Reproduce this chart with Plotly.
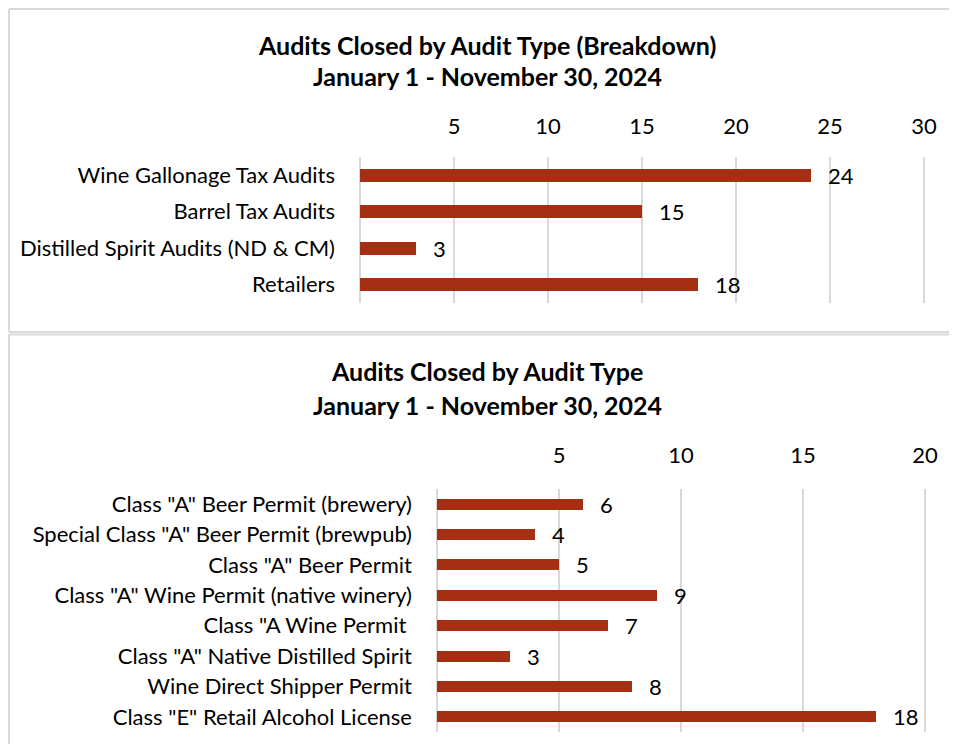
import plotly.graph_objects as go

# ---- data ----
top_categories = ["Wine Gallonage Tax Audits", "Barrel Tax Audits",
                  "Distilled Spirit Audits (ND & CM)", "Retailers"]
top_values = [24, 15, 3, 18]
top_ticks = [5, 10, 15, 20, 25, 30]

bottom_categories = ['Class "A" Beer Permit (brewery)',
                     'Special Class "A" Beer Permit (brewpub)',
                     'Class "A" Beer Permit',
                     'Class "A" Wine Permit (native winery)',
                     'Class "A Wine Permit ',
                     'Class "A" Native Distilled Spirit',
                     'Wine Direct Shipper Permit',
                     'Class "E" Retail Alcohol License']
bottom_values = [6, 4, 5, 9, 7, 3, 8, 18]
bottom_ticks = [5, 10, 15, 20]

top_title = ["Audits Closed by Audit Type (Breakdown)", "January 1 - November 30, 2024"]
bottom_title = ["Audits Closed by Audit Type", "January 1 - November 30, 2024"]

# ---- styling ----
OFF = 8          # default body margin of the page
W, H = 941, 736  # figure size so that page fits the 957x754 window
BAR = "#A52F12"
GRID = "#D9D9D9"
FONT = "Lato"
FS = 22
PAD = "  \u2009"


def px(x):
    return (x - OFF) / W


def py(y):
    return 1 - (y - OFF) / H


fig = go.Figure()

fig.add_trace(go.Bar(
    x=top_values, y=top_categories, orientation="h",
    marker=dict(color=BAR, line=dict(width=0)), width=0.36,
    text=[PAD + str(v) for v in top_values], textposition="outside",
    constraintext="none",
    textfont=dict(family=FONT, size=FS, color="#000000"),
    cliponaxis=False, xaxis="x", yaxis="y", showlegend=False,
    hoverinfo="x+y"))

fig.add_trace(go.Bar(
    x=bottom_values, y=bottom_categories, orientation="h",
    marker=dict(color=BAR, line=dict(width=0)), width=0.36,
    text=[PAD + str(v) for v in bottom_values], textposition="outside",
    constraintext="none",
    textfont=dict(family=FONT, size=FS, color="#000000"),
    cliponaxis=False, xaxis="x2", yaxis="y2", showlegend=False,
    hoverinfo="x+y"))

axis_common = dict(showgrid=True, gridcolor=GRID, gridwidth=2,
                   zeroline=True, zerolinecolor=GRID, zerolinewidth=2,
                   showline=False, side="top", ticks="", automargin=False,
                   tickfont=dict(family=FONT, size=FS, color="#000000"),
                   fixedrange=True)

yaxis_common = dict(autorange="reversed", showgrid=False, zeroline=False,
                    showline=False, ticks="", automargin=False,
                    tickfont=dict(family=FONT, size=FS, color="#000000"),
                    ticklabelstandoff=24, fixedrange=True)

# axis ranges are padded a little so the last grid line is not on the edge
TOP_MAX, BOT_MAX = 30.3, 20.2
top_scale = (924 - 360) / 30
bot_scale = (925 - 437) / 20

fig.update_layout(
    template="none",
    autosize=False,
    width=W, height=H, margin=dict(l=0, r=0, t=0, b=0, pad=0),
    paper_bgcolor="white", plot_bgcolor="white",
    bargap=0,
    xaxis=dict(domain=[px(360), px(360 + TOP_MAX * top_scale)], range=[0, TOP_MAX],
               tickvals=top_ticks, anchor="y", ticklabelstandoff=18, **axis_common),
    yaxis=dict(domain=[py(303), py(157)], anchor="x", **yaxis_common),
    xaxis2=dict(domain=[px(437), px(437 + BOT_MAX * bot_scale)], range=[0, BOT_MAX],
                tickvals=bottom_ticks, anchor="y2", ticklabelstandoff=21, **axis_common),
    yaxis2=dict(domain=[py(732), py(489)], anchor="x2", **yaxis_common),
)

# titles
title_font = dict(family=FONT, size=25, color="#000000")
for txt, y in zip(top_title, [45, 76]):
    fig.add_annotation(text="<b>" + txt + "</b>", x=px(487), y=py(y),
                       xref="paper", yref="paper", showarrow=False,
                       xanchor="center", yanchor="middle", font=title_font)
for txt, y in zip(bottom_title, [371, 405]):
    fig.add_annotation(text="<b>" + txt + "</b>", x=px(487), y=py(y),
                       xref="paper", yref="paper", showarrow=False,
                       xanchor="center", yanchor="middle", font=title_font)

# panel borders
line = dict(color=GRID, width=2)
fig.add_shape(type="line", xref="paper", yref="paper", x0=px(9), x1=1.01, y0=py(9), y1=py(9), line=line)
fig.add_shape(type="line", xref="paper", yref="paper", x0=px(9), x1=px(9), y0=py(9), y1=py(332), line=line)
fig.add_shape(type="line", xref="paper", yref="paper", x0=px(9), x1=1.01, y0=py(332), y1=py(332), line=line)
fig.add_shape(type="line", xref="paper", yref="paper", x0=px(9), x1=1.01, y0=py(334.5), y1=py(334.5), line=line)
fig.add_shape(type="line", xref="paper", yref="paper", x0=px(9), x1=px(9), y0=py(334), y1=-0.01, line=line)

fig.write_html("out.html", config={"displayModeBar": False, "responsive": False})
